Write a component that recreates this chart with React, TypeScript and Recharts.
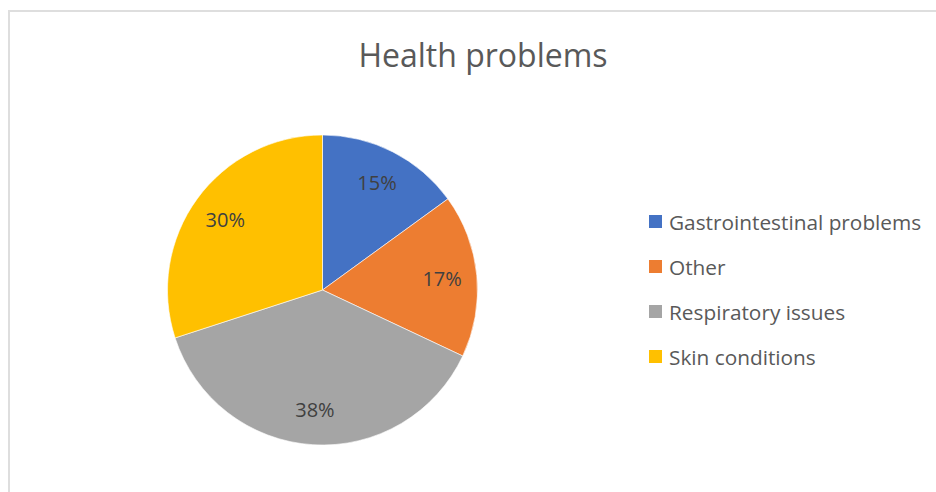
import React from "react";
import { PieChart, Pie, Cell, Legend } from "recharts";

const categories = [
  "Gastrointestinal problems",
  "Other",
  "Respiratory issues",
  "Skin conditions",
];
const shares = [15, 17, 38, 30];
const colors = ["#4472C4", "#ED7D31", "#A5A5A5", "#FFC000"];

const data = categories.map((name, i) => ({ name, value: shares[i] }));

const RAD = Math.PI / 180;
const FONT = "'Open Sans', 'Noto Sans', sans-serif";

const renderLabel = (props: any) => {
  const { cx, cy, midAngle, outerRadius, percent } = props;
  const r = outerRadius * 0.775;
  const x = cx + r * Math.cos(-midAngle * RAD);
  const y = cy + r * Math.sin(-midAngle * RAD);
  return (
    <text
      x={x}
      y={y}
      textAnchor="middle"
      dominantBaseline="central"
      fill="#404040"
      fontSize={20}
      fontFamily={FONT}
    >
      {`${Math.round(percent * 100)}%`}
    </text>
  );
};

const renderLegend = (props: any) => {
  const { payload } = props;
  return (
    <ul style={{ listStyle: "none", margin: 0, padding: 0 }}>
      {(payload || []).map((entry: any, i: number) => (
        <li
          key={i}
          style={{
            display: "flex",
            alignItems: "center",
            height: 45,
            fontFamily: FONT,
            fontSize: 20.8,
            color: "#595959",
            whiteSpace: "nowrap",
          }}
        >
          <span
            style={{
              display: "inline-block",
              width: 13,
              height: 13,
              background: entry.color,
              marginRight: 7,
            }}
          />
          {entry.value}
        </li>
      ))}
    </ul>
  );
};

export default function App() {
  return (
    <div
      style={{
        position: "absolute",
        left: 8,
        top: 10,
        width: 926,
        height: 480,
        borderTop: "2px solid #dedede",
        borderLeft: "2px solid #dedede",
        background: "#fff",
        overflow: "hidden",
      }}
    >
      <div
        style={{
          position: "absolute",
          left: 0,
          width: 946,
          top: 27,
          textAlign: "center",
          fontFamily: FONT,
          fontSize: 32,
          lineHeight: "32px",
          color: "#595959",
        }}
      >
        Health problems
      </div>
      <PieChart width={926} height={480}>
        <Pie
          data={data}
          dataKey="value"
          nameKey="name"
          cx={307.5}
          cy={273}
          outerRadius={155}
          startAngle={90}
          endAngle={-270}
          stroke="#ffffff"
          strokeWidth={0.6}
          label={renderLabel}
          labelLine={false}
          isAnimationActive={false}
        >
          {data.map((d, i) => (
            <Cell key={d.name} fill={colors[i]} />
          ))}
        </Pie>
        <Legend
          layout="vertical"
          content={renderLegend}
          wrapperStyle={{ left: 639, top: 187, width: 290 }}
        />
      </PieChart>
    </div>
  );
}
